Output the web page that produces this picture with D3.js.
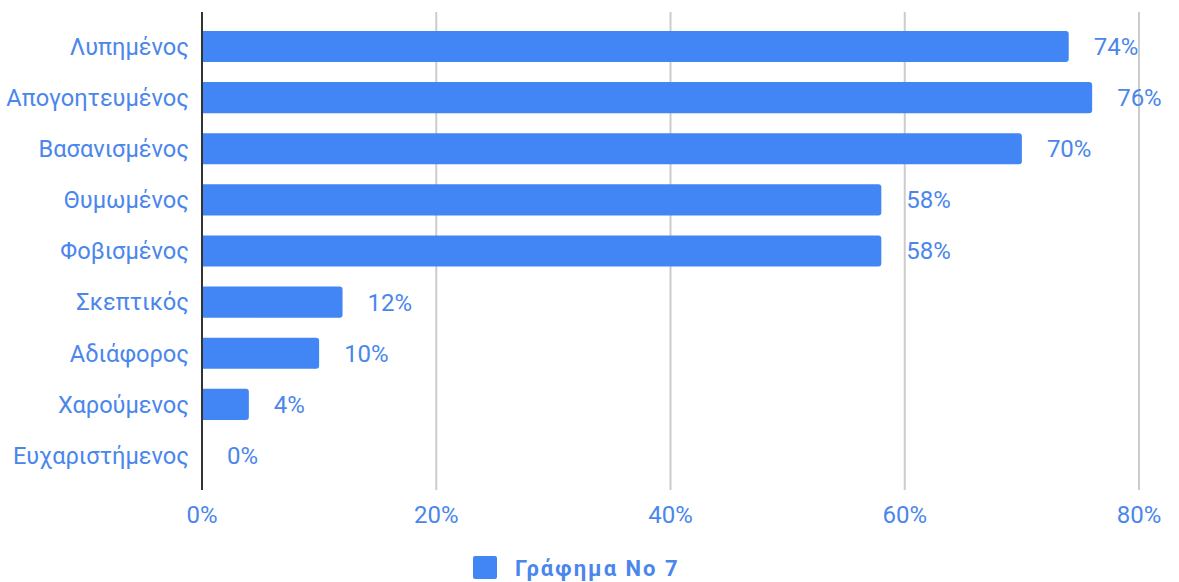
<!DOCTYPE html>
<html>
<head>
<meta charset="utf-8">
<script src="https://cdn.jsdelivr.net/npm/d3@7"></script>
<style>
  body { margin: 0; background: #fff; }
  text { font-family: Roboto, "Noto Sans", sans-serif; }
</style>
</head>
<body>
<script>
const categories = ['Λυπημένος', 'Απογοητευμένος', 'Βασανισμένος', 'Θυμωμένος', 'Φοβισμένος',
    'Σκεπτικός', 'Αδιάφορος', 'Χαρούμενος', 'Ευχαριστήμενος']
const values = [74, 76, 70, 58, 58, 12, 10, 4, 0]
const ticks = [0, 20, 40, 60, 80]
const seriesName = 'Γράφημα Νο 7'

const width = 1179
const height = 582
const blue = '#4285f4'
const textBlue = '#4a86ec'

const x = d3.scaleLinear()
    .domain([0, 80])
    .range([202, 1139])

const y = d3.scaleBand()
    .domain(categories)
    .range([12, 490])
    .paddingInner(0.39)
    .paddingOuter(0.37)

const svg = d3.select('body')
    .append('svg')
    .attr('width', width)
    .attr('height', height)

// grid
svg.append('g')
    .selectAll('line')
    .data(ticks.slice(1))
    .enter()
    .append('line')
    .attr('x1', d => x(d))
    .attr('x2', d => x(d))
    .attr('y1', 12)
    .attr('y2', 490)
    .attr('stroke', '#cccccc')
    .attr('stroke-width', 2)

// x tick labels
svg.append('g')
    .selectAll('text')
    .data(ticks)
    .enter()
    .append('text')
    .attr('x', d => x(d))
    .attr('y', 523)
    .attr('text-anchor', 'middle')
    .attr('font-size', 24)
    .attr('fill', textBlue)
    .text(d => d + '%')

// bars with rounded right end
const r = 3
svg.append('g')
    .selectAll('path')
    .data(values.map((v, i) => ({cat: categories[i], v})).filter(d => d.v > 0))
    .enter()
    .append('path')
    .attr('fill', blue)
    .attr('d', d => {
        const x0 = x(0)
        const x1 = x(d.v)
        const y0 = y(d.cat)
        const h = y.bandwidth()
        return `M${x0},${y0}H${x1 - r}Q${x1},${y0} ${x1},${y0 + r}V${y0 + h - r}Q${x1},${y0 + h} ${x1 - r},${y0 + h}H${x0}Z`
    })

// value labels
svg.append('g')
    .selectAll('text')
    .data(values)
    .enter()
    .append('text')
    .attr('x', d => x(d) + 25)
    .attr('y', (d, i) => y(categories[i]) + y.bandwidth() / 2)
    .attr('dy', '0.35em')
    .attr('font-size', 24)
    .attr('fill', textBlue)
    .text(d => d + '%')

// category labels
svg.append('g')
    .selectAll('text')
    .data(categories)
    .enter()
    .append('text')
    .attr('x', 189)
    .attr('y', d => y(d) + y.bandwidth() / 2)
    .attr('dy', '0.35em')
    .attr('text-anchor', 'end')
    .attr('font-size', 23.6)
    .attr('fill', textBlue)
    .text(d => d)

// axis line
svg.append('line')
    .attr('x1', x(0))
    .attr('x2', x(0))
    .attr('y1', 12)
    .attr('y2', 490)
    .attr('stroke', '#333')
    .attr('stroke-width', 2)

// legend
const legend = svg.append('g')
legend.append('rect')
    .attr('x', 473)
    .attr('y', 556)
    .attr('width', 24)
    .attr('height', 23)
    .attr('rx', 2)
    .attr('fill', blue)
legend.append('text')
    .attr('x', 515)
    .attr('y', 576)
    .attr('font-size', 22)
    .attr('font-weight', 'bold')
    .attr('letter-spacing', 2)
    .attr('fill', textBlue)
    .text(seriesName)
</script>
</body>
</html>
